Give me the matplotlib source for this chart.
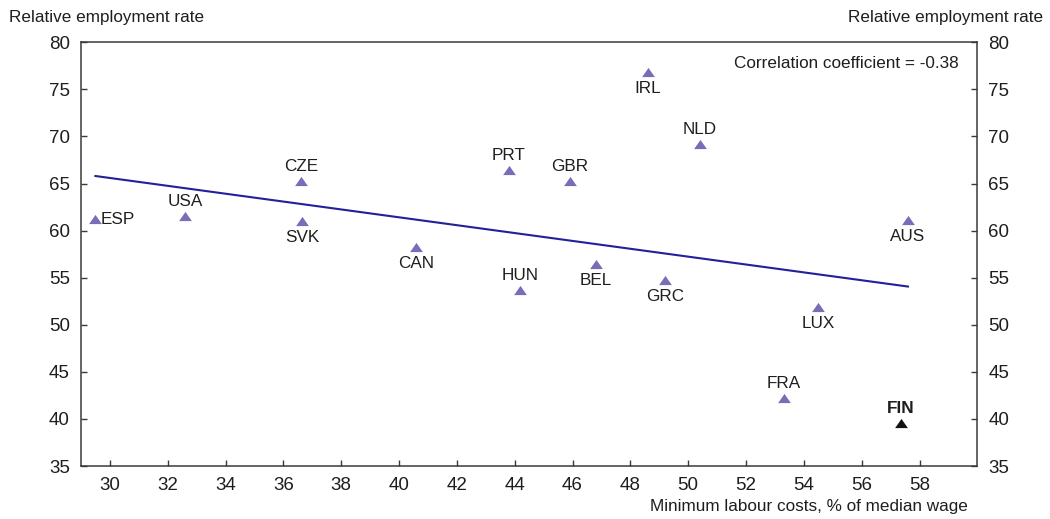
import matplotlib
matplotlib.use("Agg")
import matplotlib.pyplot as plt
from matplotlib.path import Path
import numpy as np

plt.rcParams['font.family'] = ['Liberation Sans', 'DejaVu Sans']

countries = ["ESP", "USA", "CZE", "SVK", "CAN", "PRT", "HUN", "GBR", "BEL",
             "IRL", "GRC", "NLD", "FRA", "LUX", "AUS", "FIN"]
min_labour_costs = [29.5, 32.6, 36.6, 36.65, 40.6, 43.8, 44.2, 45.9, 46.8,
                    48.6, 49.2, 50.4, 53.3, 54.5, 57.6, 57.35]
rel_employment = [61.2, 61.55, 65.25, 61.0, 58.3, 66.4, 53.7, 65.3, 56.45,
                  76.85, 54.75, 69.2, 42.2, 51.85, 61.15, 39.6]
label_pos = ["right", "above", "above", "below", "below", "above", "above", "above", "below",
             "below", "below", "above", "above", "below", "below", "above"]
trend_x = [29.5, 57.6]
trend_y = [65.8, 54.06]
corr_text = "Correlation coefficient = -0.38"
x_ticks = list(range(30, 59, 2))
y_ticks = list(range(35, 81, 5))

purple = '#7a6db8'
navy = '#23209a'
spine_c = '#3a3a3a'
txt_c = '#1e1e1e'

tri = Path([(-1, -0.72), (1, -0.72), (0, 0.72), (-1, -0.72)],
           [Path.MOVETO, Path.LINETO, Path.LINETO, Path.CLOSEPOLY])

fig = plt.figure(figsize=(10.5, 5.19), dpi=100)
ax = fig.add_axes([0.0771, 0.1021, 0.8537, 0.8164])
ax.set_xlim(29, 60)
ax.set_ylim(35, 80)

ax.plot(trend_x, trend_y, color=navy, lw=1.5, zorder=2)

for c, x, y, p in zip(countries, min_labour_costs, rel_employment, label_pos):
    is_fin = c == "FIN"
    ax.plot([x], [y], linestyle='none', marker=tri, ms=9.2,
            color='#111111' if is_fin else purple, mew=0, zorder=3)
    if p == "right":
        off, ha, va = (5, 0), 'left', 'center'
    elif p == "above":
        off, ha, va = (0, 14.5), 'center', 'center'
    else:
        off, ha, va = (0, -16.5), 'center', 'center'
    ax.annotate(c, (x, y), xytext=off, textcoords='offset pixels', ha=ha, va=va,
                fontsize=12.3, color=txt_c, fontweight='bold' if is_fin else 'normal')

ax.text(0.9796, 0.951, corr_text, transform=ax.transAxes, ha='right', va='center',
        fontsize=12.3, color=txt_c)

ax.set_xticks(x_ticks)
ax.set_yticks(y_ticks)
ax.tick_params(axis='both', which='major', direction='in', length=4, width=1,
               color=spine_c, labelsize=13.5, labelcolor=txt_c, pad=8)
ax.tick_params(axis='y', left=True, right=True, labelleft=True, labelright=True)
ax.tick_params(axis='x', top=False, bottom=True)
for s in ax.spines.values():
    s.set_color(spine_c)
    s.set_linewidth(1.1)

fig.text(0.0086, 0.967, "Relative employment rate", ha='left', va='center',
         fontsize=12.3, color=txt_c)
fig.text(0.9933, 0.967, "Relative employment rate", ha='right', va='center',
         fontsize=12.3, color=txt_c)
fig.text(0.9219, 0.0237, "Minimum labour costs, % of median wage", ha='right', va='center',
         fontsize=12.3, color=txt_c)

fig.savefig("out.png", dpi=100, facecolor='white')
